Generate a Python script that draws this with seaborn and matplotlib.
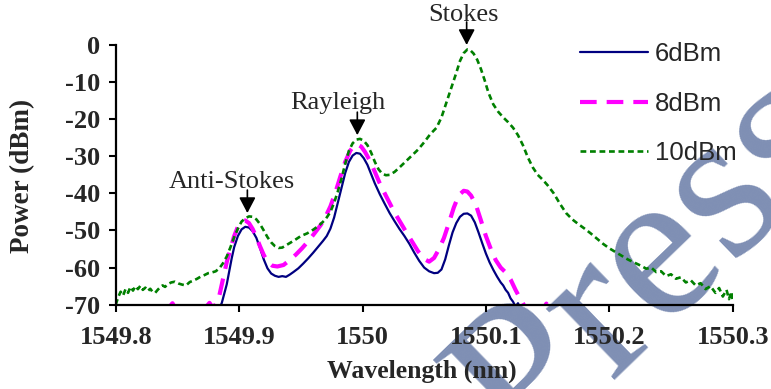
import numpy as np
import pandas as pd
import matplotlib
matplotlib.use("Agg")
import matplotlib.pyplot as plt
import seaborn as sns

# ---------------- data ----------------
wl_6dbm = [1549.884, 1549.886, 1549.888, 1549.890, 1549.892, 1549.894, 1549.896, 1549.899,
           1549.902, 1549.905, 1549.908, 1549.911, 1549.914, 1549.917, 1549.920, 1549.923,
           1549.926, 1549.929, 1549.932, 1549.935, 1549.938, 1549.941, 1549.944, 1549.948,
           1549.952, 1549.956, 1549.960, 1549.964, 1549.968, 1549.971, 1549.974, 1549.977,
           1549.980, 1549.983, 1549.986, 1549.989, 1549.992, 1549.995, 1549.998, 1550.001,
           1550.004, 1550.007, 1550.010, 1550.014, 1550.018, 1550.022, 1550.026, 1550.030,
           1550.034, 1550.038, 1550.042, 1550.046, 1550.050, 1550.054, 1550.058, 1550.061,
           1550.064, 1550.067, 1550.070, 1550.073, 1550.076, 1550.079, 1550.082, 1550.085,
           1550.088, 1550.091, 1550.094, 1550.097, 1550.100, 1550.103, 1550.106, 1550.109,
           1550.112, 1550.114, 1550.116, 1550.118, 1550.120, 1550.122, 1550.124, 1550.126,
           1550.128]
pw_6dbm = [-71.0, -69.5, -67.0, -64.5, -61.0, -57.5, -54.5, -51.5,
           -49.7, -49.0, -49.2, -50.2, -52.0, -54.8, -57.8, -60.2,
           -61.6, -62.2, -62.5, -62.3, -62.5, -61.9, -61.2, -60.2,
           -58.9, -57.5, -56.0, -54.4, -52.8, -51.5, -49.5, -46.5,
           -42.5, -38.5, -34.5, -31.5, -29.8, -29.1, -29.3, -30.5,
           -32.3, -34.8, -37.3, -40.2, -42.8, -45.3, -47.5, -49.6,
           -51.5, -53.6, -56.0, -58.2, -60.0, -61.0, -61.5, -61.4,
           -60.5, -57.8, -54.0, -50.5, -48.0, -46.3, -45.5, -45.4,
           -46.0, -47.8, -50.5, -53.4, -56.2, -58.6, -60.6, -62.4,
           -64.0, -64.8, -66.0, -66.8, -68.3, -69.2, -70.5, -69.6,
           -71.0]

wl_8dbm = [1549.840, 1549.846, 1549.850, 1549.870, 1549.876, 1549.879, 1549.882, 1549.884,
           1549.886, 1549.888, 1549.890, 1549.893, 1549.896, 1549.899, 1549.902, 1549.905,
           1549.908, 1549.911, 1549.914, 1549.917, 1549.920, 1549.923, 1549.927, 1549.931,
           1549.936, 1549.941, 1549.946, 1549.951, 1549.956, 1549.961, 1549.966, 1549.970,
           1549.974, 1549.978, 1549.982, 1549.986, 1549.990, 1549.993, 1549.996, 1549.999,
           1550.002, 1550.006, 1550.010, 1550.014, 1550.018, 1550.022, 1550.026, 1550.030,
           1550.035, 1550.040, 1550.045, 1550.050, 1550.054, 1550.058, 1550.062, 1550.066,
           1550.070, 1550.074, 1550.078, 1550.082, 1550.085, 1550.088, 1550.092, 1550.096,
           1550.100, 1550.104, 1550.108, 1550.112, 1550.116, 1550.120, 1550.124, 1550.128,
           1550.131, 1550.135, 1550.141, 1550.145, 1550.149, 1550.152]
pw_8dbm = [-72.0, -69.6, -72.0, -72.0, -69.5, -71.0, -69.3, -67.5,
           -64.5, -61.5, -58.5, -55.0, -51.5, -49.0, -47.6, -47.3,
           -48.0, -49.6, -51.8, -54.3, -56.6, -58.4, -59.5, -59.7,
           -59.3, -58.0, -56.5, -54.8, -52.9, -50.8, -48.6, -46.3,
           -43.5, -39.8, -35.5, -31.5, -28.5, -27.2, -26.8, -27.4,
           -28.8, -31.2, -34.2, -37.3, -40.0, -42.6, -45.2, -47.4,
           -50.2, -52.9, -55.6, -57.7, -58.4, -57.4, -55.0, -52.0,
           -48.0, -43.8, -40.5, -39.3, -39.5, -40.6, -43.2, -47.3,
           -51.5, -55.0, -58.0, -60.0, -61.3, -63.2, -66.0, -68.5,
           -70.2, -72.0, -69.6, -72.0, -69.7, -72.0]

wl_10dbm = [1549.800, 1549.802, 1549.804, 1549.806, 1549.808, 1549.810, 1549.812, 1549.814,
            1549.816, 1549.818, 1549.820, 1549.822, 1549.824, 1549.826, 1549.828, 1549.830,
            1549.832, 1549.834, 1549.836, 1549.838, 1549.840, 1549.842, 1549.845, 1549.848,
            1549.851, 1549.854, 1549.857, 1549.860, 1549.863, 1549.866, 1549.869, 1549.872,
            1549.875, 1549.878, 1549.881, 1549.884, 1549.887, 1549.890, 1549.893, 1549.896,
            1549.899, 1549.902, 1549.905, 1549.908, 1549.911, 1549.914, 1549.917, 1549.920,
            1549.923, 1549.926, 1549.929, 1549.932, 1549.935, 1549.940, 1549.945, 1549.950,
            1549.955, 1549.960, 1549.965, 1549.970, 1549.974, 1549.977, 1549.980, 1549.983,
            1549.986, 1549.989, 1549.992, 1549.995, 1549.998, 1550.001, 1550.004, 1550.007,
            1550.010, 1550.013, 1550.016, 1550.019, 1550.022, 1550.026, 1550.030, 1550.035,
            1550.040, 1550.045, 1550.050, 1550.055, 1550.060, 1550.064, 1550.068, 1550.072,
            1550.076, 1550.079, 1550.082, 1550.085, 1550.087, 1550.090, 1550.093, 1550.096,
            1550.099, 1550.102, 1550.106, 1550.110, 1550.114, 1550.118, 1550.122, 1550.126,
            1550.130, 1550.134, 1550.138, 1550.142, 1550.146, 1550.150, 1550.155, 1550.160,
            1550.165, 1550.170, 1550.175, 1550.180, 1550.185, 1550.190, 1550.195, 1550.200,
            1550.205, 1550.210, 1550.215, 1550.220, 1550.225, 1550.230, 1550.234, 1550.238,
            1550.242, 1550.246, 1550.250, 1550.254, 1550.258, 1550.262, 1550.266, 1550.270,
            1550.274, 1550.278, 1550.282, 1550.286, 1550.289, 1550.292, 1550.295, 1550.297,
            1550.299, 1550.300]
pw_10dbm = [-70.0, -68.0, -66.5, -67.5, -65.8, -66.8, -65.2, -66.2,
            -65.0, -65.8, -64.9, -66.0, -65.4, -66.3, -65.7, -66.6,
            -66.8, -66.0, -65.3, -64.8, -65.2, -64.5, -64.0, -63.8,
            -64.3, -64.6, -64.8, -63.9, -63.5, -63.0, -62.4, -62.0,
            -61.5, -61.3, -61.0, -60.2, -58.8, -57.0, -54.5, -51.8,
            -49.5, -47.6, -46.7, -46.2, -46.3, -47.0, -48.3, -50.0,
            -51.8, -53.2, -54.2, -54.7, -54.6, -53.6, -52.6, -51.5,
            -50.8, -49.8, -48.6, -47.0, -45.0, -42.5, -39.5, -36.0,
            -32.0, -28.5, -26.5, -25.5, -25.3, -25.8, -27.0, -29.0,
            -31.5, -33.5, -34.7, -35.1, -35.0, -34.2, -33.0, -31.4,
            -29.8, -28.2, -26.2, -24.0, -22.3, -19.5, -15.5, -11.5,
            -7.5, -4.3, -2.2, -1.2, -1.3, -2.3, -4.0, -6.5,
            -9.5, -12.8, -16.0, -18.0, -19.5, -20.8, -22.3, -24.3,
            -27.0, -30.3, -33.0, -35.0, -36.3, -37.8, -40.0, -42.8,
            -45.3, -47.0, -48.3, -49.5, -50.8, -52.2, -53.6, -54.8,
            -55.8, -56.8, -57.8, -58.6, -59.4, -60.3, -60.0, -61.2,
            -61.0, -62.3, -61.8, -63.0, -62.6, -64.0, -63.4, -64.8,
            -64.2, -65.8, -65.0, -66.8, -65.5, -67.8, -66.0, -68.5,
            -66.5, -69.0]

series_labels = ["6dBm", "8dBm", "10dBm"]
x_ticks = [1549.8, 1549.9, 1550.0, 1550.1, 1550.2, 1550.3]
x_tick_labels = ["1549.8", "1549.9", "1550", "1550.1", "1550.2", "1550.3"]
y_ticks = [0, -10, -20, -30, -40, -50, -60, -70]
peak_labels = ["Anti-Stokes", "Rayleigh", "Stokes"]
peak_wl = [1549.9067, 1549.9958, 1550.0844]
peak_tip = [-45.3, -24.3, 0.0]

# ---------------- figure ----------------
sns.set_style("ticks")
plt.rcParams["font.family"] = ["Liberation Serif", "DejaVu Serif"]

W, H = 771, 389
fig = plt.figure(figsize=(W / 100, H / 100), dpi=100)
fig.patch.set_facecolor("white")
ax = fig.add_axes([115.7 / W, 1 - 304.7 / H, (732.7 - 115.7) / W, (304.7 - 45) / H])
ax.set_facecolor("none")

# watermark
fig.text(652 / W, 1 - 266 / H, "Press", fontsize=155, family="Liberation Serif",
         color="#7f8fb4", rotation=44, ha="center", va="center", zorder=-5)

styles = [
    dict(color="#000080", lw=1.6, ls="-"),
    dict(color="#ff00ff", lw=3.0, ls=(0, (4, 2.4))),
    dict(color="#008000", lw=1.9, ls=(0, (2.2, 1.4))),
]
datasets = [(wl_6dbm, pw_6dbm), (wl_8dbm, pw_8dbm), (wl_10dbm, pw_10dbm)]
for (xs, ys), lab, st in zip(datasets, series_labels, styles):
    df = pd.DataFrame({"wl": xs, "pw": ys})
    sns.lineplot(data=df, x="wl", y="pw", ax=ax, label=lab, sort=False, estimator=None,
                 color=st["color"], linewidth=st["lw"], linestyle=st["ls"])

ax.set_xlim(1549.8, 1550.3)
ax.set_ylim(-70, 0)
ax.set_xticks(x_ticks)
ax.set_xticklabels(x_tick_labels)
ax.set_yticks(y_ticks)
ax.set_yticklabels([str(v) for v in y_ticks])
for lab in ax.get_xticklabels() + ax.get_yticklabels():
    lab.set_fontweight("bold")
    lab.set_fontsize(19)
ax.tick_params(axis="both", direction="out", length=5, width=1.5, color="black")
ax.tick_params(axis="x", pad=10)
ax.tick_params(axis="y", pad=6)
for s in ["top", "right"]:
    ax.spines[s].set_visible(False)
for s in ["left", "bottom"]:
    ax.spines[s].set_linewidth(1.6)
    ax.spines[s].set_color("black")
ax.set_xlabel("")
ax.set_ylabel("")

fig.text(421.7 / W, 1 - 371.7 / H, "Wavelength (nm)", fontsize=18.5, fontweight="bold",
         ha="center", va="center")
fig.text(23 / W, 1 - 176 / H, "Power (dBm)", fontsize=19.5, fontweight="bold",
         rotation=90, ha="center", va="center")

# peak annotations
text_pos = [(1549.8939, -36.8), (1549.9797, -15.6), (1550.0818, 8.1)]
for name, xw, tip, (tx, ty) in zip(peak_labels, peak_wl, peak_tip, text_pos):
    ax.text(tx, ty, name, fontsize=19, ha="center", va="center", clip_on=False)
    ax.annotate("", xy=(xw, tip), xytext=(xw, tip + 6.2),
                arrowprops=dict(arrowstyle="-|>,head_length=0.95,head_width=0.5",
                                color="black", lw=1.2, shrinkA=0, shrinkB=0,
                                mutation_scale=10),
                annotation_clip=False)

leg = ax.legend(loc="upper left", bbox_to_anchor=(580 / W, 1 - 42 / H),
                bbox_transform=fig.transFigure, frameon=False, borderpad=0,
                borderaxespad=0, handlelength=2.65, handletextpad=0.27,
                labelspacing=1.0, prop={"family": "Liberation Sans", "size": 18.5})

fig.savefig("out.png", dpi=100)
